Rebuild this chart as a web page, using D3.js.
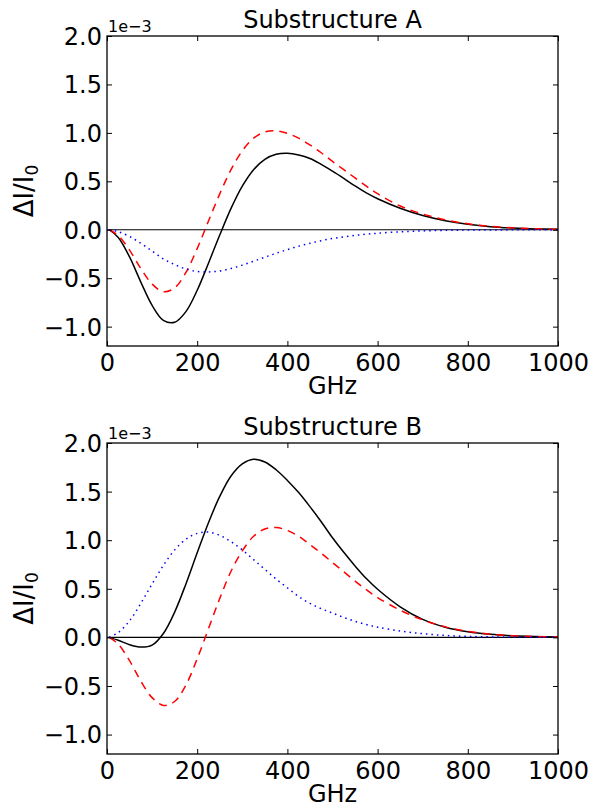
<!DOCTYPE html>
<meta charset="utf-8">
<style>
  body { margin: 0; background: white; }
  svg { font-family: "DejaVu Sans", sans-serif; }
  .tick line { stroke: black; stroke-width: 1; }
  .tick text { font-size: 24px; fill: black; font-family: "DejaVu Sans", sans-serif; }
</style>
<body>
</body>
<script src="https://cdn.jsdelivr.net/npm/d3@7/dist/d3.min.js"></script>
<script>
  // frequency grid (GHz) shared by all six curves, values in units of 1e-3
  const freq = [5, 25, 50, 75, 100, 125, 150, 175, 200, 225, 250, 275, 300, 325, 350, 375, 400,
                425, 450, 475, 500, 525, 550, 575, 600, 650, 700, 750, 800, 850, 900, 950, 1000];

  const aBlack = [0, -0.08, -0.28, -0.54, -0.78, -0.935, -0.955, -0.845, -0.625, -0.345, -0.055, 0.22, 0.45, 0.62, 0.727, 0.779, 0.79,
                  0.772, 0.735, 0.675, 0.605, 0.53, 0.452, 0.38, 0.32, 0.222, 0.147, 0.094, 0.057, 0.032, 0.018, 0.009, 0.004];
  const aRed   = [0, -0.06, -0.21, -0.40, -0.56, -0.64, -0.60, -0.44, -0.195, 0.09, 0.37, 0.62, 0.815, 0.945, 1.01, 1.022, 0.995,
                  0.945, 0.875, 0.795, 0.705, 0.62, 0.535, 0.45, 0.372, 0.245, 0.162, 0.102, 0.062, 0.035, 0.020, 0.010, 0.004];
  const aBlue  = [0, -0.02, -0.07, -0.14, -0.22, -0.30, -0.36, -0.405, -0.43, -0.435, -0.425, -0.40, -0.365, -0.325, -0.283, -0.243, -0.205,
                  -0.17, -0.14, -0.113, -0.09, -0.073, -0.058, -0.046, -0.036, -0.021, -0.012, -0.006, -0.003, -0.002, -0.001, 0, 0];

  const bBlack = [0, -0.03, -0.075, -0.10, -0.08, 0.04, 0.26, 0.55, 0.87, 1.18, 1.45, 1.66, 1.785, 1.833, 1.805, 1.725, 1.615,
                  1.49, 1.345, 1.19, 1.025, 0.875, 0.735, 0.605, 0.495, 0.315, 0.185, 0.105, 0.058, 0.031, 0.016, 0.008, 0.003];
  const bRed   = [0, -0.07, -0.24, -0.45, -0.62, -0.70, -0.66, -0.49, -0.22, 0.09, 0.40, 0.68, 0.89, 1.04, 1.115, 1.13, 1.10,
                  1.04, 0.955, 0.865, 0.77, 0.675, 0.58, 0.49, 0.41, 0.28, 0.18, 0.108, 0.062, 0.033, 0.018, 0.008, 0.003];
  const bBlue  = [0.002, 0.05, 0.17, 0.35, 0.55, 0.74, 0.90, 1.01, 1.07, 1.083, 1.05, 0.985, 0.90, 0.80, 0.70, 0.60, 0.51,
                  0.42, 0.35, 0.295, 0.25, 0.205, 0.165, 0.132, 0.105, 0.065, 0.038, 0.02, 0.01, 0.005, 0.002, 0.001, 0];

  const xTicks = [0, 200, 400, 600, 800, 1000];
  const yTicks = [-1.0, -0.5, 0.0, 0.5, 1.0, 1.5, 2.0];
  const titles = ['Substructure A', 'Substructure B'];

  const w = 595, h = 809;
  const l = 107, r = 558;
  const panels = [
    {title: titles[0], t: 36, b: 346, series: [aBlack, aRed, aBlue]},
    {title: titles[1], t: 443, b: 754, series: [bBlack, bRed, bBlue]},
  ];
  const styles = [
    {color: 'black', dash: null},
    {color: '#ff0000', dash: '8,6'},
    {color: '#0000ff', dash: '1.5,4'},
  ];

  const svg = d3.select('body').append('svg')
    .attr('width', w)
    .attr('height', h);

  const xAxis = d3.scaleLinear().domain([0, 1000]).range([l, r]);
  const fmtY = d3.format('.1f');
  const fmtX = d3.format('d');

  panels.forEach(p => {
    const yAxis = d3.scaleLinear().domain([-1.2, 2.0]).range([p.b, p.t]);
    const g = svg.append('g');

    // zero line
    g.append('line')
      .attr('x1', l).attr('x2', r)
      .attr('y1', yAxis(0)).attr('y2', yAxis(0))
      .attr('stroke', 'black').attr('stroke-width', 1.2);

    const line = d3.line()
      .x((d, i) => xAxis(freq[i]))
      .y(d => yAxis(d))
      .curve(d3.curveCatmullRom.alpha(0.5));

    p.series.forEach((s, i) => {
      g.append('path')
        .attr('d', line(s))
        .attr('fill', 'none')
        .attr('stroke', styles[i].color)
        .attr('stroke-width', 1.5)
        .attr('stroke-dasharray', styles[i].dash);
    });

    // ticks on all four sides, pointing inward
    g.append('g')
      .attr('transform', `translate(0, ${p.b})`)
      .call(d3.axisBottom(xAxis).tickValues(xTicks).tickSize(-5).tickSizeOuter(0).tickPadding(8).tickFormat(fmtX))
      .call(a => a.select('.domain').remove());
    g.append('g')
      .attr('transform', `translate(0, ${p.t})`)
      .call(d3.axisTop(xAxis).tickValues(xTicks).tickSize(-5).tickSizeOuter(0).tickFormat(''))
      .call(a => a.select('.domain').remove());
    g.append('g')
      .attr('transform', `translate(${l}, 0)`)
      .call(d3.axisLeft(yAxis).tickValues(yTicks).tickSize(-5).tickSizeOuter(0).tickPadding(5).tickFormat(fmtY))
      .call(a => a.select('.domain').remove())
      .call(a => a.selectAll('text').attr('dy', '0.35em'));
    g.append('g')
      .attr('transform', `translate(${r}, 0)`)
      .call(d3.axisRight(yAxis).tickValues(yTicks).tickSize(-5).tickSizeOuter(0).tickFormat(''))
      .call(a => a.select('.domain').remove());

    g.append('rect')
      .attr('x', l).attr('y', p.t)
      .attr('width', r - l).attr('height', p.b - p.t)
      .attr('fill', 'none').attr('stroke', 'black').attr('stroke-width', 1.3);

    g.append('text')
      .attr('x', (l + r) / 2).attr('y', p.t - 8)
      .attr('text-anchor', 'middle')
      .attr('font-size', 24)
      .text(p.title);

    g.append('text')
      .attr('x', l + 1).attr('y', p.t - 4)
      .attr('font-size', 16)
      .text('1e\u22123');

    g.append('text')
      .attr('x', (l + r) / 2).attr('y', p.b + 48)
      .attr('text-anchor', 'middle')
      .attr('font-size', 24)
      .text('GHz');

    const yl = g.append('text')
      .attr('transform', `translate(33, ${(p.t + p.b) / 2}) rotate(-90)`)
      .attr('text-anchor', 'middle')
      .attr('font-size', 26);
    yl.append('tspan').text('\u0394I/I');
    yl.append('tspan').attr('font-size', 17).attr('dy', '0.3em').text('0');
  });
</script>
